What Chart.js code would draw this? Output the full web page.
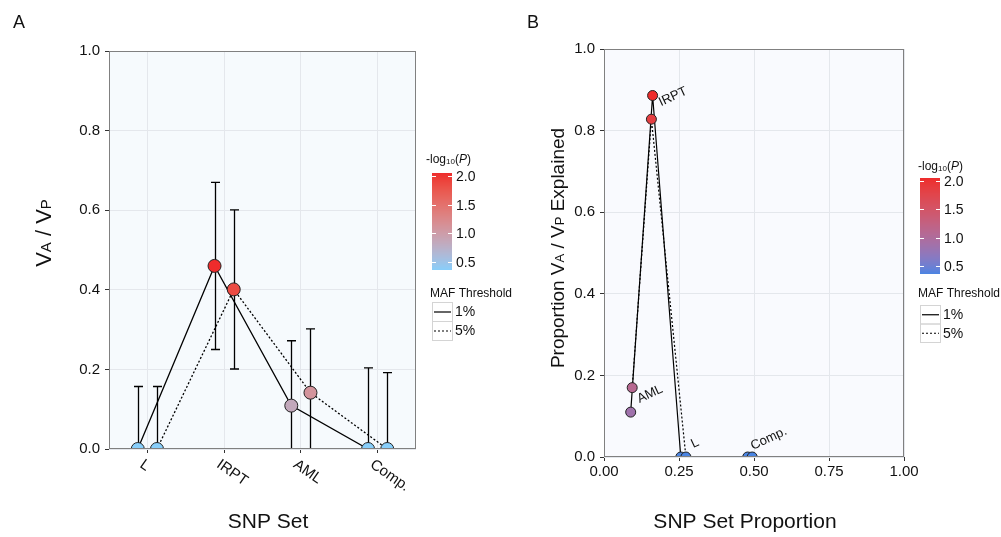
<!DOCTYPE html>
<html>
<head>
<meta charset="utf-8">
<script src="https://cdn.jsdelivr.net/npm/chart.js@4.4.1/dist/chart.umd.min.js"></script>
<style>
  html, body { margin: 0; padding: 0; background: #fff; }
  #wrap { position: relative; width: 1001px; height: 537px; }
  canvas { position: absolute; top: 0; }
  #chartA { left: 0; }
  #chartB { left: 520px; }
</style>
</head>
<body>
<div id="wrap">
  <canvas id="chartA" width="520" height="537" style="width:520px;height:537px"></canvas>
  <canvas id="chartB" width="481" height="537" style="width:481px;height:537px"></canvas>
</div>
<script>
// ---- data ----
const categories = ["L", "IRPT", "AML", "Comp."];

// panel A: VA / VP per SNP set, MAF 1% and 5%
const h2_1 = [0, 0.46, 0.109, 0];
const h2_5 = [0, 0.401, 0.1415, 0];
const upper_1 = [0.157, 0.670, 0.272, 0.204];
const lower_1 = [-0.157, 0.250, -0.054, -0.204];
const upper_5 = [0.157, 0.601, 0.302, 0.192];
const lower_5 = [-0.157, 0.201, -0.019, -0.192];
const logp_1 = [0.36, 2.05, 0.85, 0.36];
const logp_5 = [0.36, 1.85, 1.1, 0.36];

// panel B: proportion of SNPs vs proportion of VA / VP explained
const prop_1 = [0.256, 0.162, 0.089, 0.479];
const prop_5 = [0.273, 0.158, 0.094, 0.494];
const explained_1 = [0, 0.886, 0.110, 0];
const explained_5 = [0, 0.828, 0.170, 0];

const yTicks = [0, 0.2, 0.4, 0.6, 0.8, 1.0];
const xTicksB = [0, 0.25, 0.5, 0.75, 1.0];
const legendTicks = [0.5, 1.0, 1.5, 2.0];
const mafLabels = ["1%", "5%"];

// ---- helpers ----
const FONT = "'Liberation Sans', Arial, Helvetica, sans-serif";
const gridColor = "#e4e7ec";

function hexToRgb(h) {
  const n = parseInt(h.slice(1), 16);
  return [(n >> 16) & 255, (n >> 8) & 255, n & 255];
}
function toLin(c) { c /= 255; return c <= 0.04045 ? c / 12.92 : Math.pow((c + 0.055) / 1.055, 2.4); }
function fromLin(c) {
  const v = c <= 0.0031308 ? 12.92 * c : 1.055 * Math.pow(c, 1 / 2.4) - 0.055;
  return Math.round(Math.max(0, Math.min(1, v)) * 255);
}
const WP = [0.95047, 1, 1.08883];
function rgbToLab(rgb) {
  const r = toLin(rgb[0]), g = toLin(rgb[1]), b = toLin(rgb[2]);
  const X = (0.4124 * r + 0.3576 * g + 0.1805 * b) / WP[0];
  const Y = (0.2126 * r + 0.7152 * g + 0.0722 * b) / WP[1];
  const Z = (0.0193 * r + 0.1192 * g + 0.9505 * b) / WP[2];
  const f = t => t > 0.008856 ? Math.cbrt(t) : 7.787 * t + 16 / 116;
  const fx = f(X), fy = f(Y), fz = f(Z);
  return [116 * fy - 16, 500 * (fx - fy), 200 * (fy - fz)];
}
function labToRgb(lab) {
  const fy = (lab[0] + 16) / 116, fx = fy + lab[1] / 500, fz = fy - lab[2] / 200;
  const fi = t => t ** 3 > 0.008856 ? t ** 3 : (t - 16 / 116) / 7.787;
  const X = fi(fx) * WP[0], Y = fi(fy) * WP[1], Z = fi(fz) * WP[2];
  const r = 3.2406 * X - 1.5372 * Y - 0.4986 * Z;
  const g = -0.9689 * X + 1.8758 * Y + 0.0415 * Z;
  const b = 0.0557 * X - 0.2040 * Y + 1.0570 * Z;
  return `rgb(${fromLin(r)},${fromLin(g)},${fromLin(b)})`;
}
function makeRamp(lo, hi) {
  const a = rgbToLab(hexToRgb(lo)), b = rgbToLab(hexToRgb(hi));
  return t => labToRgb(a.map((v, i) => v + (b[i] - v) * t));
}

const pMin = Math.min(...logp_1, ...logp_5);
const pMax = Math.max(...logp_1, ...logp_5);
const rampA = makeRamp("#87CEFA", "#EE2C2C");
const rampB = makeRamp("#4a84e2", "#EE2C2C");
const colorOf = (ramp, v) => ramp((v - pMin) / (pMax - pMin));

// draw a row of text pieces (for subscripts / italics), centred on 0
function drawPieces(ctx, pieces, align) {
  let total = 0;
  pieces.forEach(p => { ctx.font = p.font; p.w = ctx.measureText(p.t).width; total += p.w; });
  let x = align === "left" ? 0 : -total / 2;
  pieces.forEach(p => {
    ctx.font = p.font;
    ctx.fillText(p.t, x, p.dy || 0);
    x += p.w;
  });
}

function vaVpPieces(size, before, after) {
  const big = `${size}px ${FONT}`, small = `${Math.round(size * 0.68)}px ${FONT}`;
  const out = [];
  if (before) out.push({ t: before, font: big });
  out.push({ t: "V", font: big }, { t: "A", font: small }, { t: " / V", font: big }, { t: "P", font: small });
  if (after) out.push({ t: after, font: big });
  return out;
}

function drawLegends(ctx, L, ramp) {
  ctx.save();
  ctx.fillStyle = "#111";
  ctx.textBaseline = "alphabetic";
  ctx.translate(L.titleX, L.titleY);
  drawPieces(ctx, [
    { t: "-log", font: `12px ${FONT}` },
    { t: "10", font: `8px ${FONT}`, dy: 1 },
    { t: "(", font: `12px ${FONT}` },
    { t: "P", font: `italic 12px ${FONT}` },
    { t: ")", font: `12px ${FONT}` }
  ], "left");
  ctx.restore();

  // colour bar
  const h = L.barBottom - L.barTop;
  for (let r = 0; r < h; r++) {
    const v = pMax - (r + 0.5) / h * (pMax - pMin);
    ctx.fillStyle = colorOf(ramp, v);
    ctx.fillRect(L.barX, L.barTop + r, L.barW, 1);
  }
  ctx.strokeStyle = "#fff";
  ctx.lineWidth = 1;
  ctx.fillStyle = "#111";
  ctx.font = `14px ${FONT}`;
  ctx.textBaseline = "middle";
  ctx.textAlign = "left";
  legendTicks.forEach(v => {
    const y = Math.round(L.barTop + (pMax - v) / (pMax - pMin) * h) + 0.5;
    ctx.beginPath();
    ctx.moveTo(L.barX, y); ctx.lineTo(L.barX + 4, y);
    ctx.moveTo(L.barX + L.barW - 4, y); ctx.lineTo(L.barX + L.barW, y);
    ctx.stroke();
    ctx.fillText(v.toFixed(1), L.barX + L.barW + 4, y + 1);
  });

  // line type legend
  ctx.font = `12px ${FONT}`;
  ctx.textBaseline = "alphabetic";
  ctx.fillText("MAF Threshold", L.mafX, L.mafY);
  mafLabels.forEach((lab, i) => {
    const top = L.keyTop + i * L.keyH;
    ctx.strokeStyle = "#d4d4d4";
    ctx.lineWidth = 1;
    ctx.strokeRect(L.barX + 0.5, top + 0.5, L.barW, L.keyH);
    ctx.strokeStyle = "#000";
    ctx.lineWidth = 1.2;
    ctx.setLineDash(i === 0 ? [] : [2, 2]);
    ctx.beginPath();
    ctx.moveTo(L.barX + 2, top + L.keyH / 2 + 0.5);
    ctx.lineTo(L.barX + L.barW - 1, top + L.keyH / 2 + 0.5);
    ctx.stroke();
    ctx.setLineDash([]);
    ctx.fillStyle = "#111";
    ctx.font = `14px ${FONT}`;
    ctx.textBaseline = "middle";
    ctx.fillText(lab, L.barX + L.barW + 3, top + L.keyH / 2 + 1);
    ctx.textBaseline = "alphabetic";
  });
}

const panelFrame = bg => ({
  id: "panelFrame",
  beforeDraw(chart) {
    const { ctx, chartArea: a } = chart;
    ctx.save();
    ctx.fillStyle = bg;
    ctx.fillRect(a.left, a.top, a.right - a.left, a.bottom - a.top);
    ctx.restore();
  },
  afterDatasetsDraw(chart) {
    const { ctx, chartArea: a } = chart;
    ctx.save();
    ctx.strokeStyle = "#808080";
    ctx.lineWidth = 1;
    ctx.strokeRect(a.left + 0.5, a.top + 0.5, a.right - a.left - 1, a.bottom - a.top - 1);
    ctx.restore();
  }
});

// ---- panel A ----
const dodge = 0.125;
const ptsA1 = categories.map((c, i) => ({ x: i + 1 - dodge, y: h2_1[i] }));
const ptsA5 = categories.map((c, i) => ({ x: i + 1 + dodge, y: h2_5[i] }));

const errorBars = {
  id: "errorBars",
  beforeDatasetsDraw(chart) {
    const { ctx, chartArea: a, scales: { x, y } } = chart;
    ctx.save();
    ctx.beginPath();
    ctx.rect(a.left, a.top, a.right - a.left, a.bottom - a.top);
    ctx.clip();
    ctx.strokeStyle = "#000";
    ctx.lineWidth = 1.3;
    [[upper_1, lower_1, -dodge], [upper_5, lower_5, dodge]].forEach(([up, lo, off]) => {
      categories.forEach((c, i) => {
        const px = Math.round(x.getPixelForValue(i + 1 + off)) + 0.5;
        const pu = y.getPixelForValue(up[i]), pl = y.getPixelForValue(lo[i]);
        ctx.beginPath();
        ctx.moveTo(px, pu); ctx.lineTo(px, pl);
        ctx.moveTo(px - 4.5, pu); ctx.lineTo(px + 4.5, pu);
        ctx.moveTo(px - 4.5, pl); ctx.lineTo(px + 4.5, pl);
        ctx.stroke();
      });
    });
    ctx.restore();
  }
};

const textA = {
  id: "textA",
  afterDraw(chart) {
    const { ctx, scales: { x } } = chart;
    ctx.save();
    ctx.fillStyle = "#111";
    // panel letter
    ctx.font = `18px ${FONT}`;
    ctx.textBaseline = "alphabetic";
    ctx.fillText("A", 13, 28);
    // rotated category labels
    ctx.font = `15px ${FONT}`;
    categories.forEach((c, i) => {
      const px = x.getPixelForValue(i + 1);
      ctx.save();
      ctx.translate(px - 6, 463);
      ctx.rotate(35 * Math.PI / 180);
      ctx.textAlign = "left";
      ctx.textBaseline = "middle";
      ctx.fillText(c, 0, 0);
      ctx.restore();
    });
    // axis titles
    ctx.textBaseline = "alphabetic";
    ctx.save();
    ctx.translate(268, 528);
    drawPieces(ctx, [{ t: "SNP Set", font: `21px ${FONT}` }]);
    ctx.restore();
    ctx.save();
    ctx.translate(51, 233);
    ctx.rotate(-Math.PI / 2);
    drawPieces(ctx, vaVpPieces(22));
    ctx.restore();
    ctx.restore();
    drawLegends(ctx, {
      titleX: 426, titleY: 163, barX: 432, barW: 20, barTop: 173, barBottom: 270,
      mafX: 430, mafY: 297, keyTop: 302, keyH: 19
    }, rampA);
  }
};

new Chart(document.getElementById("chartA"), {
  type: "line",
  data: {
    datasets: [
      { data: ptsA1, showLine: false, pointRadius: 6.5, pointHoverRadius: 6.5, pointBorderWidth: 1,
        pointBorderColor: "#222", pointBackgroundColor: logp_1.map(v => colorOf(rampA, v)), clip: 0, order: 0 },
      { data: ptsA5, showLine: false, pointRadius: 6.5, pointHoverRadius: 6.5, pointBorderWidth: 1,
        pointBorderColor: "#222", pointBackgroundColor: logp_5.map(v => colorOf(rampA, v)), clip: 0, order: 1 },
      { data: ptsA1, borderColor: "#000", borderWidth: 1.3, pointRadius: 0, tension: 0, order: 2 },
      { data: ptsA5, borderColor: "#000", borderWidth: 1.3, borderDash: [2, 2], pointRadius: 0, tension: 0, order: 3 }
    ]
  },
  options: {
    responsive: false,
    animation: false,
    events: [],
    layout: { padding: { left: 0, top: 51, right: 104, bottom: 0 } },
    plugins: { legend: { display: false }, tooltip: { enabled: false } },
    scales: {
      x: {
        type: "linear", min: 0.5, max: 4.5,
        afterBuildTicks: s => { s.ticks = categories.map((c, i) => ({ value: i + 1 })); },
        afterFit: s => { s.height = 88; },
        grid: { color: gridColor, tickColor: "#333", tickLength: 4 },
        border: { display: false },
        ticks: { display: false }
      },
      y: {
        min: 0, max: 1,
        afterBuildTicks: s => { s.ticks = yTicks.map(v => ({ value: v })); },
        afterFit: s => { s.width = 109; },
        grid: { color: gridColor, tickColor: "#333", tickLength: 4 },
        border: { display: false },
        ticks: { callback: v => v.toFixed(1), font: { size: 15, family: FONT }, color: "#111", padding: 5 }
      }
    }
  },
  plugins: [panelFrame("#f6fafd"), errorBars, textA]
});

// ---- panel B ----
const sortByX = pts => pts.slice().sort((a, b) => a.x - b.x);
const ptsB1 = categories.map((c, i) => ({ x: prop_1[i], y: explained_1[i] }));
const ptsB5 = categories.map((c, i) => ({ x: prop_5[i], y: explained_5[i] }));
const labelOffsets = [[10, -9], [9, -1], [8, 3], [3, -7]];

const textB = {
  id: "textB",
  afterDraw(chart) {
    const { ctx, scales: { x, y } } = chart;
    ctx.save();
    ctx.fillStyle = "#111";
    ctx.font = `18px ${FONT}`;
    ctx.textBaseline = "alphabetic";
    ctx.fillText("B", 7, 28);
    // point labels
    ctx.font = `13px ${FONT}`;
    categories.forEach((c, i) => {
      const px = x.getPixelForValue((prop_1[i] + prop_5[i]) / 2) + labelOffsets[i][0];
      const py = y.getPixelForValue((explained_1[i] + explained_5[i]) / 2) + labelOffsets[i][1];
      ctx.save();
      ctx.translate(px, py);
      ctx.rotate(-25 * Math.PI / 180);
      ctx.textAlign = "left";
      ctx.fillText(c, 0, 0);
      ctx.restore();
    });
    ctx.save();
    ctx.translate(225, 528);
    drawPieces(ctx, [{ t: "SNP Set Proportion", font: `21px ${FONT}` }]);
    ctx.restore();
    ctx.save();
    ctx.translate(44, 248);
    ctx.rotate(-Math.PI / 2);
    drawPieces(ctx, vaVpPieces(19, "Proportion ", " Explained"));
    ctx.restore();
    ctx.restore();
    drawLegends(ctx, {
      titleX: 398, titleY: 170, barX: 400, barW: 20, barTop: 178, barBottom: 274,
      mafX: 398, mafY: 297, keyTop: 305, keyH: 18.5
    }, rampB);
  }
};

new Chart(document.getElementById("chartB"), {
  type: "line",
  data: {
    datasets: [
      { data: ptsB1, showLine: false, pointRadius: 5, pointHoverRadius: 5, pointBorderWidth: 1,
        pointBorderColor: "#222", pointBackgroundColor: logp_1.map(v => colorOf(rampB, v)), clip: 0, order: 1 },
      { data: ptsB5, showLine: false, pointRadius: 5, pointHoverRadius: 5, pointBorderWidth: 1,
        pointBorderColor: "#222", pointBackgroundColor: logp_5.map(v => colorOf(rampB, v)), clip: 0, order: 0 },
      { data: sortByX(ptsB1), borderColor: "#000", borderWidth: 1.2, pointRadius: 0, tension: 0, order: 2 },
      { data: sortByX(ptsB5), borderColor: "#000", borderWidth: 1.2, borderDash: [2, 2], pointRadius: 0, tension: 0, order: 3 }
    ]
  },
  options: {
    responsive: false,
    animation: false,
    events: [],
    layout: { padding: { left: 0, top: 49, right: 97, bottom: 0 } },
    plugins: { legend: { display: false }, tooltip: { enabled: false } },
    scales: {
      x: {
        type: "linear", min: 0, max: 1,
        afterBuildTicks: s => { s.ticks = xTicksB.map(v => ({ value: v })); },
        afterFit: s => { s.height = 80; },
        grid: { color: gridColor, tickColor: "#333", tickLength: 4 },
        border: { display: false },
        ticks: { callback: v => v.toFixed(2), font: { size: 15, family: FONT }, color: "#111", padding: 2, maxRotation: 0 }
      },
      y: {
        min: 0, max: 1,
        afterBuildTicks: s => { s.ticks = yTicks.map(v => ({ value: v })); },
        afterFit: s => { s.width = 84; },
        grid: { color: gridColor, tickColor: "#333", tickLength: 4 },
        border: { display: false },
        ticks: { callback: v => v.toFixed(1), font: { size: 15, family: FONT }, color: "#111", padding: 5 }
      }
    }
  },
  plugins: [panelFrame("#f9fafe"), textB]
});
</script>
</body>
</html>
